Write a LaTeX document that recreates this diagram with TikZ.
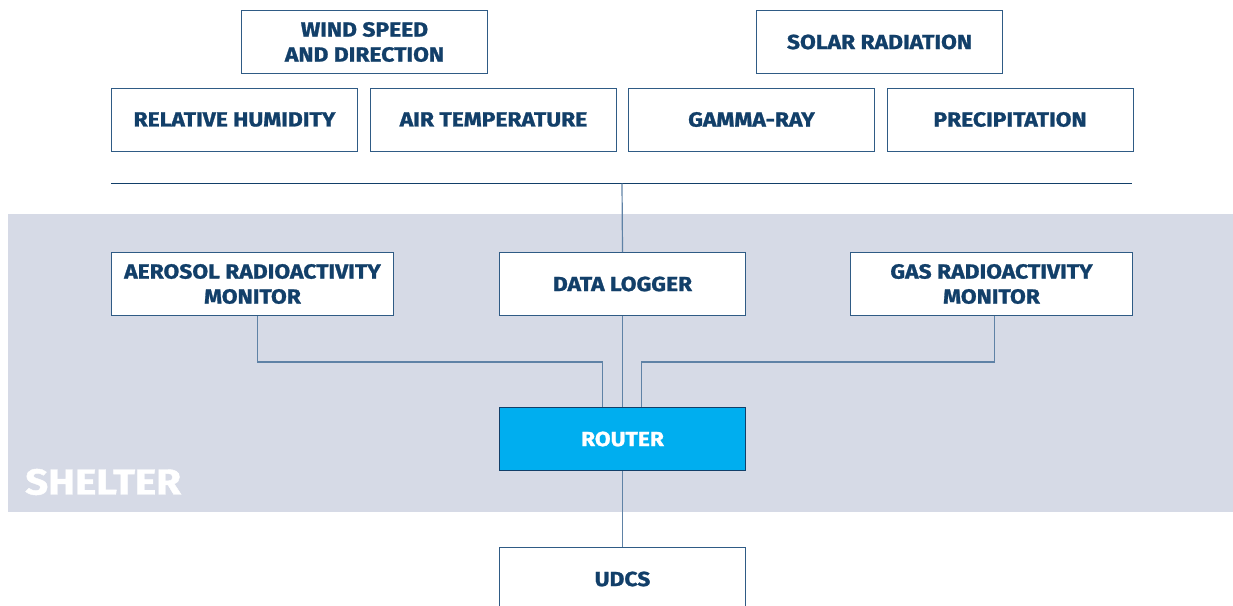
\documentclass[tikz,border=0pt]{standalone}
\usepackage{fontspec}
\setmainfont{Fira Sans}[BoldFeatures={FakeBold=1.2,FakeStretch=1.12}]
\definecolor{navy}{HTML}{123F69}
\definecolor{boxline}{HTML}{2F5B85}
\definecolor{wire}{HTML}{5F82A6}
\definecolor{shelterbg}{HTML}{D6DAE6}
\definecolor{routerfill}{HTML}{00AEEF}
\begin{document}
\begin{tikzpicture}[x=1pt,y=-1pt,
  unit/.style={draw=boxline,line width=1pt,fill=white,minimum width=246pt,minimum height=63pt,
    inner sep=0pt,align=center,font=\fontsize{20.4}{25}\selectfont\bfseries,text=navy,anchor=north west},
  wideunit/.style={unit,minimum width=282pt},
  wire/.style={draw=wire,line width=1.2pt}]
\useasboundingbox (0,0) rectangle (1233,605);
% shelter zone
\fill[shelterbg] (8,214) rectangle (1233,512);
\node[anchor=west,text=white,font=\fontsize{36}{40}\selectfont\bfseries,inner sep=0pt] (shelter) at (25,482) {SHELTER};
% outdoor sensors
\node[unit] (wind) at (241,10) {WIND SPEED\\AND DIRECTION};
\node[unit] (solar) at (756,10) {SOLAR RADIATION};
\node[unit] (rh) at (111,87.5) {RELATIVE HUMIDITY};
\node[unit] (air) at (370,87.5) {AIR TEMPERATURE};
\node[unit] (gamma) at (628,87.5) {GAMMA-RAY};
\node[unit] (precip) at (886.5,87.5) {PRECIPITATION};
% sensor bus
\coordinate (busL) at (111,183.5);
\coordinate (busR) at (1132,183.5);
\coordinate (busM) at (622,183.5);
\draw[draw=navy,line width=1pt] (busL) -- (busR);
% shelter equipment
\node[wideunit] (aerosol) at (111,252) {AEROSOL RADIOACTIVITY\\MONITOR};
\node[unit] (logger) at (499,252) {DATA LOGGER};
\node[wideunit] (gas) at (850,252) {GAS RADIOACTIVITY\\MONITOR};
\node[unit,fill=routerfill,draw=navy,text=white] (router) at (499,407) {ROUTER};
\node[unit] (udcs) at (499,547) {UDCS};
% connectors
\draw[wire] (busM) -- (logger.north);
\draw[wire] (logger.south) -- (router.north);
\draw[wire] ([xshift=5pt]aerosol.south) -- ++(0,46) -| ([xshift=-20pt]router.north);
\draw[wire] ([xshift=3pt]gas.south) -- ++(0,46) -| ([xshift=19pt]router.north);
\draw[wire] (router.south) -- (udcs.north);
\end{tikzpicture}
\end{document}
